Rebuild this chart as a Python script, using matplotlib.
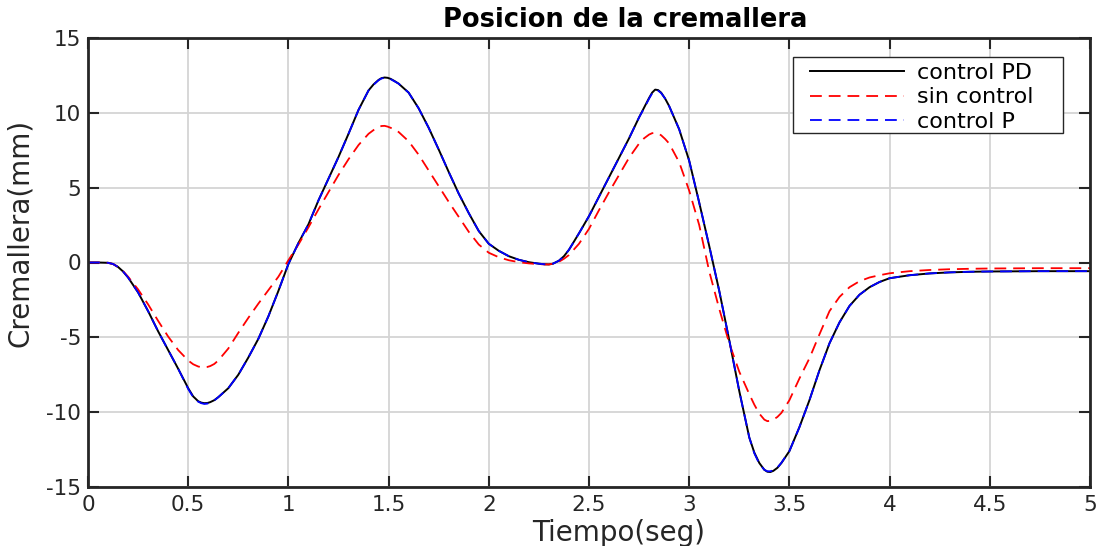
import matplotlib
matplotlib.use("Agg")
import matplotlib.pyplot as plt
from matplotlib.patches import Rectangle

plt.rcParams['font.family'] = ['DejaVu Sans']
plt.rcParams['lines.scale_dashes'] = False
plt.rcParams['axes.unicode_minus'] = False

# tiempo (s)
t = [0, 0.05, 0.1, 0.125, 0.15, 0.175, 0.2, 0.25, 0.3, 0.35,
     0.4, 0.45, 0.5, 0.525, 0.55, 0.565, 0.58, 0.595, 0.61, 0.63,
     0.65, 0.7, 0.75, 0.8, 0.85, 0.9, 0.95, 1.0, 1.05, 1.1,
     1.15, 1.2, 1.25, 1.3, 1.35, 1.4, 1.425, 1.45, 1.465, 1.48,
     1.495, 1.51, 1.53, 1.55, 1.6, 1.65, 1.7, 1.75, 1.8, 1.85,
     1.9, 1.95, 2.0, 2.05, 2.1, 2.15, 2.2, 2.25, 2.28, 2.3,
     2.32, 2.35, 2.375, 2.4, 2.45, 2.5, 2.55, 2.6, 2.65, 2.7,
     2.75, 2.775, 2.8, 2.815, 2.83, 2.845, 2.86, 2.88, 2.9, 2.95,
     3.0, 3.05, 3.1, 3.15, 3.2, 3.25, 3.3, 3.325, 3.35, 3.375,
     3.39, 3.405, 3.42, 3.44, 3.46, 3.5, 3.55, 3.6, 3.65, 3.7,
     3.75, 3.8, 3.85, 3.9, 3.95, 4.0, 4.1, 4.2, 4.3, 4.4,
     4.5, 4.75, 5.0]

# posicion de la cremallera (mm)
pd_ctrl = [0, 0, -0.02, -0.1, -0.3, -0.6, -1.0, -2.0, -3.25, -4.6,
           -5.85, -7.1, -8.4, -8.95, -9.27, -9.36, -9.4, -9.39, -9.33, -9.2,
           -9.0, -8.4, -7.5, -6.35, -5.1, -3.6, -1.9, -0.1, 1.3, 2.55,
           4.15, 5.6, 7.05, 8.6, 10.2, 11.5, 11.9, 12.2, 12.32, 12.36,
           12.34, 12.27, 12.12, 11.95, 11.35, 10.3, 9.0, 7.55, 6.05, 4.6,
           3.3, 2.1, 1.25, 0.78, 0.42, 0.18, 0.02, -0.08, -0.12, -0.13,
           -0.08, 0.12, 0.42, 0.85, 1.95, 3.1, 4.4, 5.7, 7.0, 8.3,
           9.7, 10.35, 11.0, 11.35, 11.55, 11.52, 11.35, 10.95, 10.45, 8.9,
           6.8, 4.0, 1.1, -1.9, -5.2, -8.6, -11.7, -12.7, -13.4, -13.85,
           -13.98, -14.0, -13.92, -13.72, -13.4, -12.6, -11.0, -9.2, -7.2, -5.4,
           -4.0, -2.9, -2.15, -1.65, -1.3, -1.05, -0.85, -0.73, -0.66, -0.62,
           -0.6, -0.58, -0.58]

sin_ctrl = [0, 0, -0.02, -0.1, -0.3, -0.58, -0.95, -1.8, -2.8, -3.9,
            -4.95, -5.85, -6.55, -6.8, -6.95, -6.99, -7.0, -6.98, -6.92, -6.78,
            -6.55, -5.75, -4.7, -3.7, -2.75, -1.85, -0.95, 0.15, 1.2, 2.35,
            3.55, 4.7, 5.85, 6.9, 7.85, 8.6, 8.85, 9.05, 9.12, 9.13,
            9.08, 9.0, 8.88, 8.72, 8.1, 7.2, 6.15, 5.1, 4.05, 3.05,
            2.05, 1.2, 0.65, 0.35, 0.15, 0.02, -0.06, -0.11, -0.13, -0.13,
            -0.08, 0.05, 0.25, 0.5, 1.25, 2.25, 3.5, 4.7, 5.85, 7.0,
            7.95, 8.3, 8.55, 8.64, 8.66, 8.62, 8.5, 8.25, 7.95, 6.7,
            4.8, 2.5, -0.6, -3.1, -5.4, -7.3, -8.8, -9.5, -10.1, -10.5,
            -10.6, -10.58, -10.5, -10.32, -10.05, -9.2, -7.75, -6.4, -4.8, -3.25,
            -2.3, -1.65, -1.25, -1.0, -0.85, -0.72, -0.58, -0.5, -0.45, -0.42,
            -0.4, -0.38, -0.38]

p_ctrl = [0, 0, -0.02, -0.1, -0.3, -0.6, -1.0, -2.0, -3.25, -4.6,
          -5.85, -7.1, -8.45, -9.0, -9.3, -9.4, -9.45, -9.43, -9.36, -9.22,
          -9.0, -8.4, -7.5, -6.35, -5.1, -3.6, -1.9, -0.1, 1.3, 2.55,
          4.15, 5.6, 7.05, 8.6, 10.2, 11.5, 11.88, 12.18, 12.3, 12.33,
          12.31, 12.25, 12.1, 11.95, 11.35, 10.3, 9.0, 7.55, 6.05, 4.6,
          3.3, 2.1, 1.25, 0.78, 0.42, 0.18, 0.02, -0.08, -0.12, -0.13,
          -0.08, 0.12, 0.42, 0.85, 1.95, 3.1, 4.4, 5.7, 7.0, 8.3,
          9.7, 10.3, 10.95, 11.3, 11.5, 11.48, 11.32, 10.95, 10.45, 8.9,
          6.8, 4.0, 1.1, -1.9, -5.2, -8.6, -11.7, -12.75, -13.45, -13.85,
          -13.95, -13.95, -13.88, -13.7, -13.38, -12.6, -11.0, -9.2, -7.2, -5.4,
          -4.0, -2.9, -2.15, -1.65, -1.3, -1.05, -0.85, -0.73, -0.66, -0.62,
          -0.6, -0.58, -0.58]

fig = plt.figure(figsize=(11.05, 5.46), dpi=100)
ax = fig.add_axes([88/1105, 1-487/546, (1090-88)/1105, (487-38)/546])

ax.plot(t, pd_ctrl, color='black', lw=1.4, label='control PD')
ax.plot(t, sin_ctrl, color='red', lw=1.3, dashes=(8.5, 5), label='sin control')
ax.plot(t, p_ctrl, color='blue', lw=1.3, dashes=(8.5, 5), label='control P')

ax.set_xlim(0, 5)
ax.set_ylim(-15, 15)
ax.set_xticks([0, 0.5, 1, 1.5, 2, 2.5, 3, 3.5, 4, 4.5, 5])
ax.set_xticklabels(['0', '0.5', '1', '1.5', '2', '2.5', '3', '3.5', '4', '4.5', '5'])
ax.set_yticks([-15, -10, -5, 0, 5, 10, 15])
ax.grid(True, color='#d4d4d4', lw=1.3)
ax.set_axisbelow(True)
ax.tick_params(direction='in', length=8, width=1.5, top=True, right=True,
               labelsize=15.5, colors='#262626')
ax.tick_params(axis='x', pad=6)
ax.tick_params(axis='y', pad=5)
for s in ax.spines.values():
    s.set_linewidth(2)
    s.set_color('#262626')

ax.set_title('Posicion de la cremallera', fontsize=18.5, fontweight='bold',
             x=0.536, pad=8)
ax.set_xlabel('Tiempo(seg)', fontsize=20, color='#262626')
ax.xaxis.set_label_coords(0.53, -0.071)
ax.set_ylabel('Cremallera(mm)', fontsize=20, color='#262626')
ax.yaxis.set_label_coords(-0.054, 0.565)

# recuadro de la leyenda (x 793-1063 px, y 57-133 px)
ax.add_patch(Rectangle((793/1105, 1-133/546), 270/1105, 76/546,
                       transform=fig.transFigure, clip_on=False, zorder=4.5,
                       facecolor='white', edgecolor='#262626', lw=1.0))
leg = ax.legend(loc='upper left', bbox_to_anchor=(810/1105, 1-63/546),
                bbox_transform=fig.transFigure, borderaxespad=0, borderpad=0,
                fontsize=16, handlelength=4.25, handletextpad=0.55,
                labelspacing=0.2, frameon=False)

fig.savefig('out.png', dpi=100)
